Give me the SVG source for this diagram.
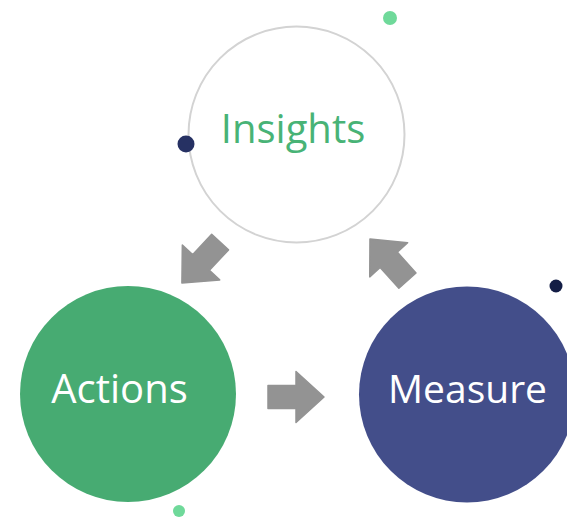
<svg xmlns="http://www.w3.org/2000/svg" width="567" height="518" viewBox="0 0 567 518">
<defs>
<style>
.lbl{font-family:"Open Sans","Noto Sans",sans-serif;font-size:40px;text-anchor:middle}
.arr{fill:#939393;stroke:#939393;stroke-width:1.5;stroke-linejoin:round}
</style>
<path id="arrowShape" d="M-28,-11.5 H0 V-25.5 L28,0 L0,25.5 V11.5 H-28 Z"/>
</defs>
<rect width="567" height="518" fill="#ffffff"/>
<g id="connectors">
<use href="#arrowShape" class="arr" transform="translate(201,262.5) rotate(133)"/>
<use href="#arrowShape" class="arr" transform="translate(388.7,259.8) rotate(228)"/>
<use href="#arrowShape" class="arr" transform="translate(296,397)"/>
</g>
<g id="insights">
<circle cx="296.5" cy="134.5" r="108" fill="#ffffff" stroke="#d3d3d3" stroke-width="2"/>
<text class="lbl" x="293" y="143" fill="#48b376">Insights</text>
</g>
<g id="actions">
<circle cx="128" cy="394" r="108" fill="#47ab72"/>
<text class="lbl" x="119.5" y="403" fill="#ffffff">Actions</text>
</g>
<g id="measure">
<circle cx="467" cy="394.5" r="108" fill="#434e8a"/>
<text class="lbl" x="467.5" y="403" fill="#ffffff" style="font-size:39px">Measure</text>
</g>
<g id="dots">
<circle cx="390" cy="18" r="7" fill="#6fd99a"/>
<circle cx="186" cy="144" r="8.5" fill="#263163"/>
<circle cx="556" cy="286" r="6.5" fill="#131d45"/>
<circle cx="179" cy="511" r="6" fill="#6fd99a"/>
</g>
</svg>
